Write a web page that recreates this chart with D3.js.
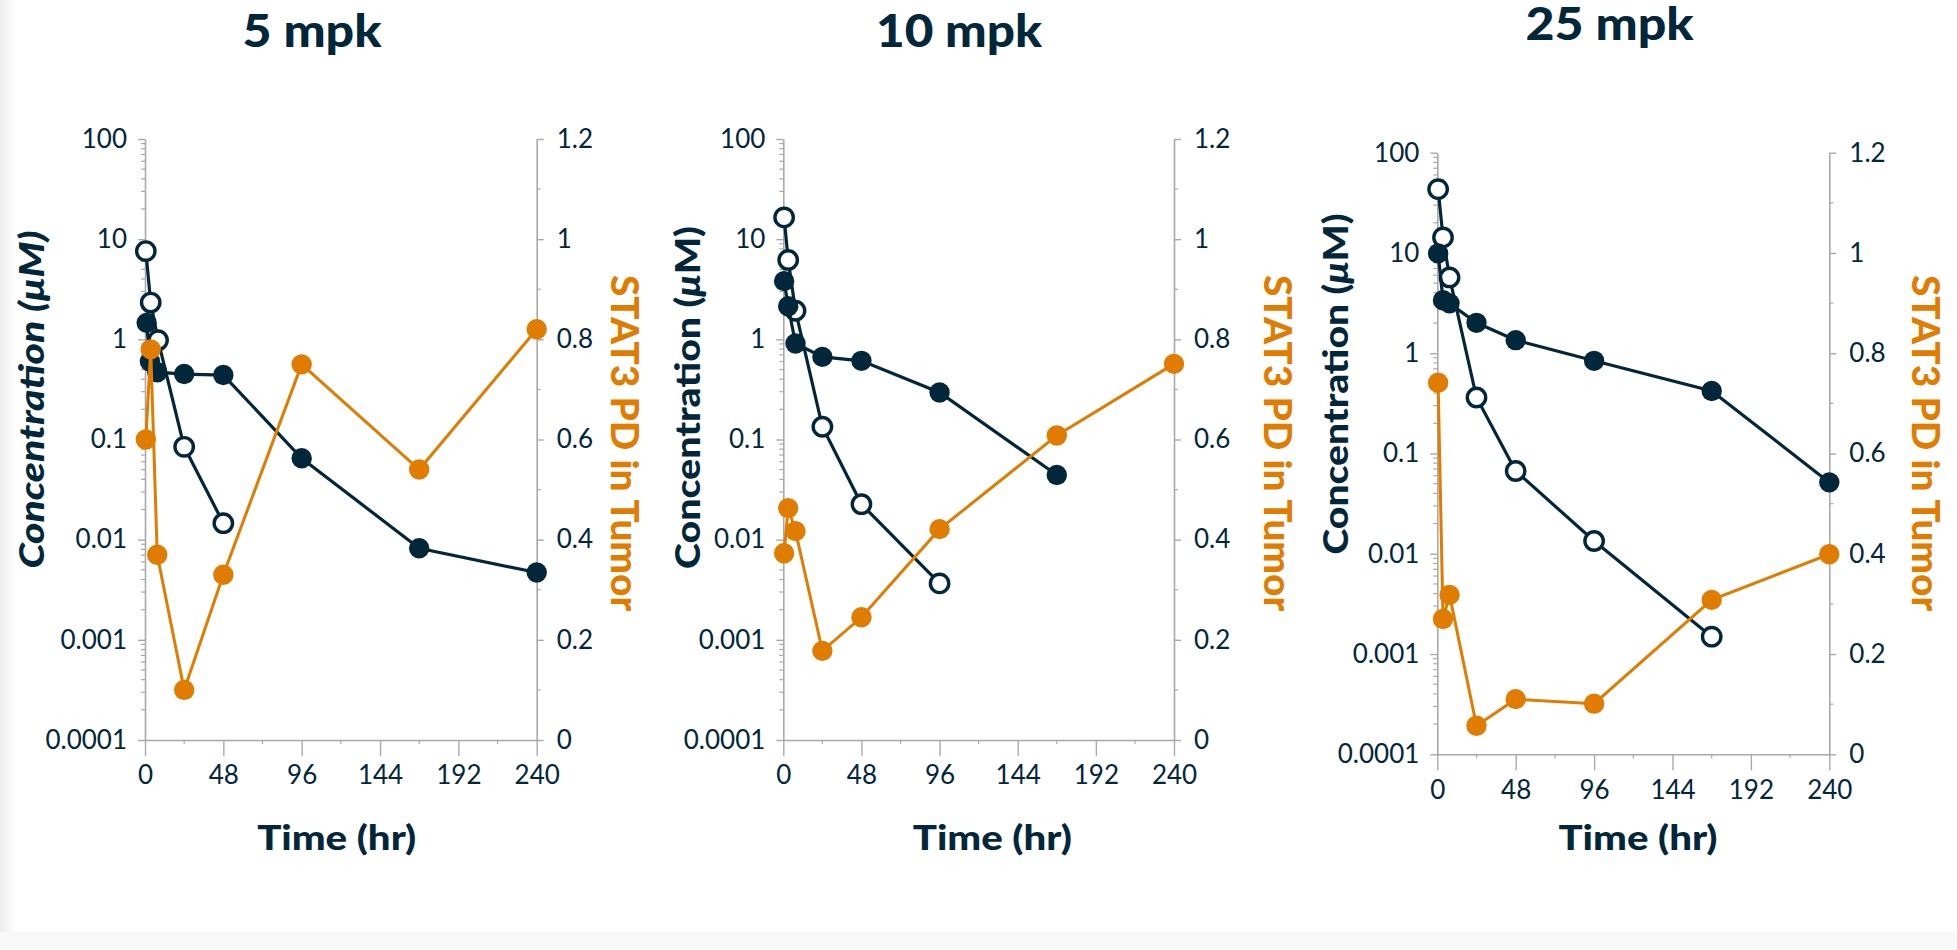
<!DOCTYPE html>
<html><head><meta charset="utf-8">
<script src="https://cdn.jsdelivr.net/npm/d3@7"></script>
<style>
html,body{margin:0;padding:0;background:#fff;}
svg{display:block;font-family:Lato,'Open Sans',sans-serif;}
</style></head>
<body>
<svg id="chart" width="1957" height="950"></svg>
<script>
// ---------------- data ----------------
const panelTitles = ["5 mpk", "10 mpk", "25 mpk"];
const concTickLabels = ["0.0001", "0.001", "0.01", "0.1", "1", "10", "100"];
const concTickValues = [0.0001, 0.001, 0.01, 0.1, 1, 10, 100];
const pdTickValues = [0, 0.2, 0.4, 0.6, 0.8, 1, 1.2];
const timeTickValues = [0, 48, 96, 144, 192, 240];

// 5 mpk
const open5Time = [0.5, 3.5, 8, 24, 48];
const open5Conc = [7.6, 2.33, 0.98, 0.0845, 0.0146];
const filled5Time = [1, 3, 7.5, 24, 48, 96, 168, 240];
const filled5Conc = [1.46, 0.6, 0.47, 0.45, 0.44, 0.065, 0.0082, 0.0047];
const pd5Time = [0.5, 3.5, 7.5, 24, 48, 96, 168, 240];
const pd5Value = [0.60, 0.78, 0.37, 0.10, 0.33, 0.75, 0.54, 0.82];

// 10 mpk
const open10Time = [0.5, 3, 7.5, 24, 48, 96];
const open10Conc = [16.5, 6.2, 1.93, 0.134, 0.0226, 0.00366];
const filled10Time = [0.5, 3, 7.5, 24, 48, 96, 168];
const filled10Conc = [3.81, 2.14, 0.91, 0.668, 0.61, 0.295, 0.0442];
const pd10Time = [0.5, 3, 7.5, 24, 48, 96, 168, 240];
const pd10Value = [0.373, 0.463, 0.417, 0.178, 0.245, 0.421, 0.608, 0.751];

// 25 mpk
const open25Time = [0.5, 3.5, 7.5, 24, 48, 96, 168];
const open25Conc = [43.3, 14.3, 5.7, 0.362, 0.0669, 0.0134, 0.00149];
const filled25Time = [0.5, 3.5, 7.5, 24, 48, 96, 168, 240];
const filled25Conc = [9.9, 3.38, 3.14, 2.01, 1.35, 0.84, 0.42, 0.0515];
const pd25Time = [0.5, 3.5, 7.5, 24, 48, 96, 168, 240];
const pd25Value = [0.741, 0.27, 0.318, 0.057, 0.11, 0.101, 0.308, 0.399];

// ---------------- layout / style ----------------
const NAVY = "#02263a";
const ORANGE = "#e07c00";
const AXIS = "#a9a9a9";

const layout = [
  {x0:145, x1:536.7, yTop:139, yBot:740, titleX:312, titleY:46.7, titleLen:139, timeX:336.7,
   leftLabX:43.5, leftLabY:399.5, leftLen:338, leftItalic:true, rightLabX:611, rightLabY:443},
  {x0:783.3, x1:1174, yTop:139, yBot:740, titleX:959, titleY:46.7, titleLen:166, timeX:992.3,
   leftLabX:700, leftLabY:397.5, leftLen:343, leftItalic:false, rightLabX:1264, rightLabY:443},
  {x0:1437.3, x1:1829.3, yTop:152.7, yBot:754.3, titleX:1609.5, titleY:39.5, titleLen:168, timeX:1638,
   leftLabX:1348, leftLabY:384, leftLen:341, leftItalic:false, rightLabX:1912, rightLabY:443}
];

const series = [
  {open:[open5Time, open5Conc], filled:[filled5Time, filled5Conc], pd:[pd5Time, pd5Value]},
  {open:[open10Time, open10Conc], filled:[filled10Time, filled10Conc], pd:[pd10Time, pd10Value]},
  {open:[open25Time, open25Conc], filled:[filled25Time, filled25Conc], pd:[pd25Time, pd25Value]}
];

const svg = d3.select("#chart");

// faint screenshot edges
const defs = svg.append("defs");
const grad = defs.append("linearGradient").attr("id","edge").attr("x1","0").attr("x2","1");
grad.append("stop").attr("offset","0").attr("stop-color","#ececec");
grad.append("stop").attr("offset","1").attr("stop-color","#ffffff");
svg.append("rect").attr("x",0).attr("y",0).attr("width",16).attr("height",950).attr("fill","url(#edge)");
svg.append("rect").attr("x",0).attr("y",932).attr("width",1957).attr("height",18).attr("fill","#f8f8f8");

const fmtPD = d => d3.format("~g")(d);

layout.forEach((L, i) => {
  const g = svg.append("g");
  const x = d3.scaleLinear().domain([0, 240]).range([L.x0, L.x1]);
  const yC = d3.scaleLog().domain([0.0001, 100]).range([L.yBot, L.yTop]);
  const yP = d3.scaleLinear().domain([0, 1.2]).range([L.yBot, L.yTop]);

  // minor ticks
  const minorLog = [];
  for (let e = -4; e < 2; e++) for (let m = 2; m <= 9; m++) minorLog.push(m * Math.pow(10, e));
  g.append("g").selectAll("line").data(minorLog).join("line")
    .attr("x1", L.x0 - 4).attr("x2", L.x0)
    .attr("y1", d => yC(d)).attr("y2", d => yC(d))
    .attr("stroke", AXIS).attr("stroke-width", 1.2);
  const minorPD = [0.1, 0.3, 0.5, 0.7, 0.9, 1.1];
  g.append("g").selectAll("line").data(minorPD).join("line")
    .attr("x1", L.x1).attr("x2", L.x1 + 4)
    .attr("y1", d => yP(d)).attr("y2", d => yP(d))
    .attr("stroke", AXIS).attr("stroke-width", 1.2);
  const minorT = [24, 72, 120, 168, 216];
  g.append("g").selectAll("line").data(minorT).join("line")
    .attr("x1", d => x(d)).attr("x2", d => x(d))
    .attr("y1", L.yBot).attr("y2", L.yBot + 4)
    .attr("stroke", AXIS).attr("stroke-width", 1.2);

  // axes
  const axL = g.append("g").attr("transform", `translate(${L.x0},0)`)
    .call(d3.axisLeft(yC).tickValues(concTickValues)
      .tickFormat((d, k) => concTickLabels[k]).tickSize(7).tickPadding(11).tickSizeOuter(0));
  const axR = g.append("g").attr("transform", `translate(${L.x1},0)`)
    .call(d3.axisRight(yP).tickValues(pdTickValues).tickFormat(fmtPD)
      .tickSize(7).tickPadding(13).tickSizeOuter(0));
  const axB = g.append("g").attr("transform", `translate(0,${L.yBot})`)
    .call(d3.axisBottom(x).tickValues(timeTickValues).tickSize(16).tickPadding(10).tickSizeOuter(0));
  [axL, axR, axB].forEach(a => {
    a.select(".domain").attr("stroke", AXIS).attr("stroke-width", 1.6);
    a.selectAll(".tick line").attr("stroke", AXIS).attr("stroke-width", 1.4);
    a.selectAll(".tick text").attr("fill", NAVY).attr("font-size", 26)
      .attr("font-family", "Lato");
  });

  // series
  const line = d3.line().x(d => x(d[0]));
  const S = series[i];
  const openPts = d3.zip(S.open[0], S.open[1]);
  const filledPts = d3.zip(S.filled[0], S.filled[1]);
  const pdPts = d3.zip(S.pd[0], S.pd[1]);

  g.append("path").datum(openPts).attr("fill", "none").attr("stroke", NAVY)
    .attr("stroke-width", 3.2).attr("d", line.y(d => yC(d[1])));
  g.append("g").selectAll("circle").data(openPts).join("circle")
    .attr("cx", d => x(d[0])).attr("cy", d => yC(d[1])).attr("r", 9.2)
    .attr("fill", "#fff").attr("stroke", NAVY).attr("stroke-width", 3.4);

  g.append("path").datum(filledPts).attr("fill", "none").attr("stroke", NAVY)
    .attr("stroke-width", 3.2).attr("d", line.y(d => yC(d[1])));
  g.append("g").selectAll("circle").data(filledPts).join("circle")
    .attr("cx", d => x(d[0])).attr("cy", d => yC(d[1])).attr("r", 10.2)
    .attr("fill", NAVY);

  g.append("path").datum(pdPts).attr("fill", "none").attr("stroke", ORANGE)
    .attr("stroke-width", 3).attr("d", line.y(d => yP(d[1])));
  g.append("g").selectAll("circle").data(pdPts).join("circle")
    .attr("cx", d => x(d[0])).attr("cy", d => yP(d[1])).attr("r", 10.2)
    .attr("fill", ORANGE);

  // titles
  svg.append("text").attr("x", L.titleX).attr("y", L.titleY)
    .attr("text-anchor", "middle").attr("font-size", 46).attr("font-weight", 900)
    .attr("textLength", L.titleLen).attr("lengthAdjust", "spacingAndGlyphs")
    .attr("fill", NAVY).text(panelTitles[i]);

  svg.append("text").attr("x", L.timeX).attr("y", 850)
    .attr("text-anchor", "middle").attr("font-size", 35).attr("font-weight", 900)
    .attr("textLength", 159).attr("lengthAdjust", "spacingAndGlyphs")
    .attr("fill", NAVY).text("Time (hr)");

  const lt = svg.append("text")
    .attr("transform", `translate(${L.leftLabX},${L.leftLabY}) rotate(-90)`)
    .attr("text-anchor", "middle").attr("font-size", 34).attr("font-weight", 900)
    .attr("textLength", L.leftLen).attr("lengthAdjust", "spacingAndGlyphs")
    .attr("fill", NAVY);
  if (L.leftItalic) {
    lt.attr("font-style", "italic").text("Concentration (μM)");
  } else {
    lt.append("tspan").text("Concentration (");
    lt.append("tspan").attr("font-style", "italic").text("μ");
    lt.append("tspan").text("M)");
  }

  svg.append("text")
    .attr("transform", `translate(${L.rightLabX},${L.rightLabY}) rotate(90)`)
    .attr("text-anchor", "middle").attr("font-size", 38).attr("font-weight", 900)
    .attr("textLength", 336).attr("lengthAdjust", "spacingAndGlyphs")
    .attr("fill", ORANGE).text("STAT3 PD in Tumor");
});
</script>
</body></html>
